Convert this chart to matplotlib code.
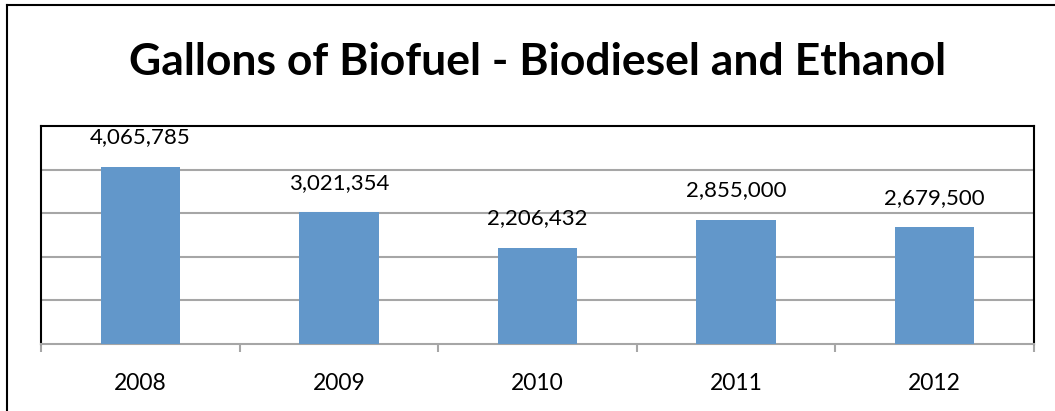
import matplotlib
matplotlib.use("Agg")
import matplotlib.pyplot as plt
from matplotlib.lines import Line2D
from matplotlib.ticker import FixedLocator

years = ["2008", "2009", "2010", "2011", "2012"]
gallons = [4065785, 3021354, 2206432, 2855000, 2679500]

bar_color = "#6297CA"
grid_color = "#A6A6A6"

plt.rcParams["font.family"] = ["Lato", "DejaVu Sans"]

fig = plt.figure(figsize=(10.55, 4.11), dpi=100)
ax = fig.add_axes([41 / 1055, 1 - 344 / 411, (1034 - 41) / 1055, (344 - 126) / 411])

x = list(range(len(years)))
ax.bar(x, gallons, width=0.4, color=bar_color, zorder=3)

for xi, val in zip(x, gallons):
    ax.annotate(f"{val:,}", (xi, val), xytext=(0, 14), textcoords="offset points",
                ha="center", va="bottom", fontsize=16, color="black")

ax.set_xlim(-0.5, len(years) - 0.5)
ax.set_ylim(0, 5000000)
ax.set_yticks([1000000, 2000000, 3000000, 4000000])
ax.tick_params(axis="y", left=False, labelleft=False)
ax.yaxis.grid(True, color=grid_color, linewidth=1.5, zorder=0)

ax.set_xticks(x)
ax.set_xticklabels(years, fontsize=16.5)
ax.tick_params(axis="x", which="major", length=0, pad=21)
ax.xaxis.set_minor_locator(FixedLocator([i - 0.5 for i in range(len(years) + 1)]))
ax.tick_params(axis="x", which="minor", length=6, width=1.5, color=grid_color)

for side in ("left", "top", "right"):
    ax.spines[side].set_color("black")
    ax.spines[side].set_linewidth(1.5)
ax.spines["bottom"].set_color(grid_color)
ax.spines["bottom"].set_linewidth(1.5)

fig.text(538 / 1055, 1 - 62 / 411, "Gallons of Biofuel - Biodiesel and Ethanol",
         ha="center", va="center", fontsize=32, fontweight="bold")

# outer chart border (only left and top edges visible)
fig.add_artist(Line2D([7 / 1055, 7 / 1055], [0, 1 - 5 / 411], color="black", linewidth=1.5,
                      transform=fig.transFigure))
fig.add_artist(Line2D([7 / 1055, 1], [1 - 5 / 411, 1 - 5 / 411], color="black", linewidth=1.5,
                      transform=fig.transFigure))

fig.savefig("out.png", dpi=100)
